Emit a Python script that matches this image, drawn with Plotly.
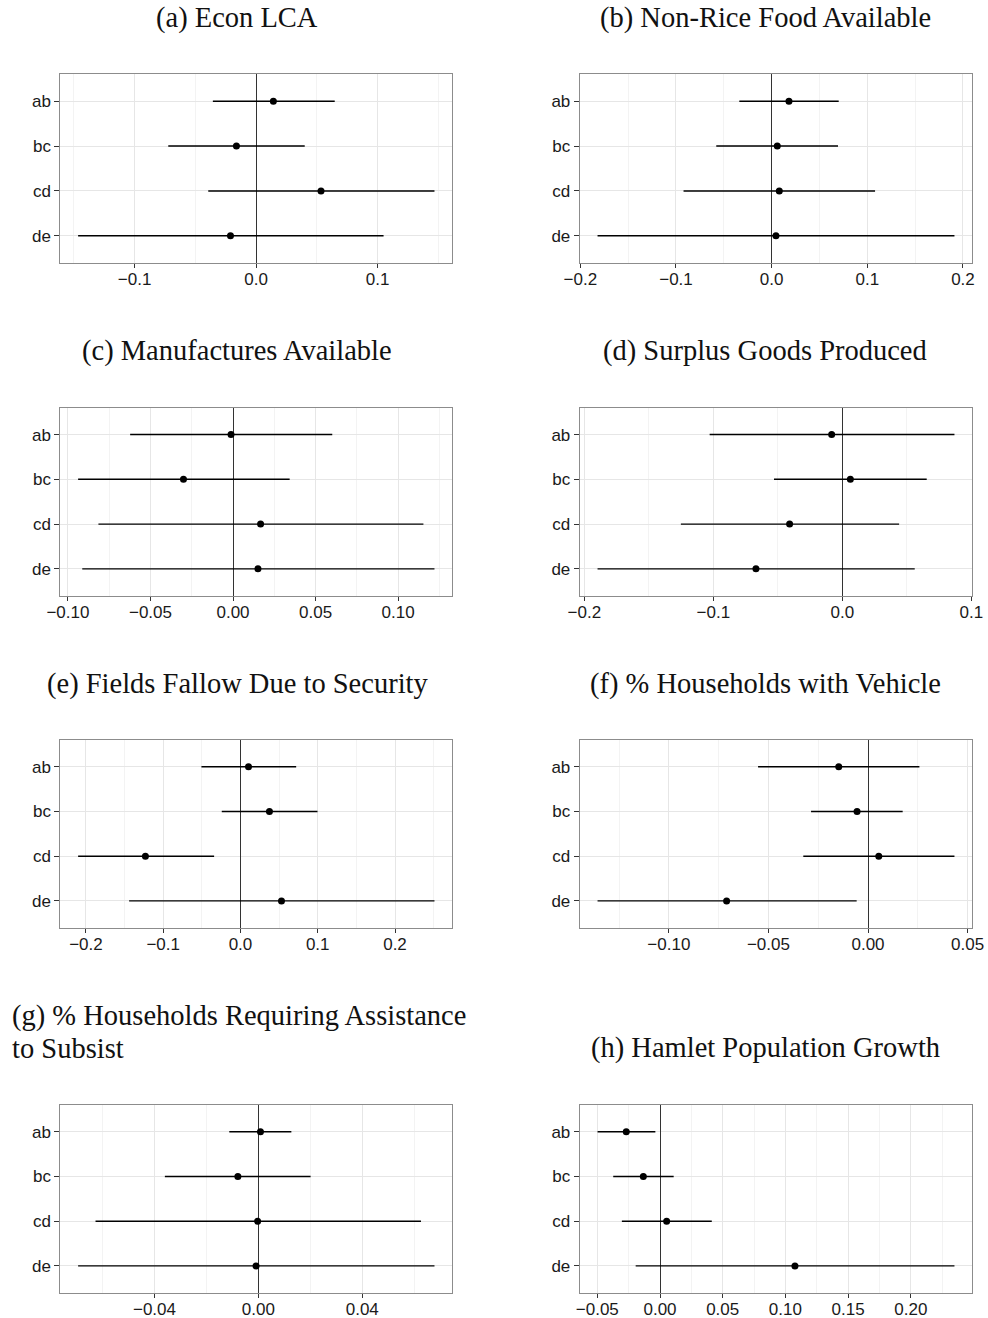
import plotly.graph_objects as go

categories = ["ab", "bc", "cd", "de"]

titles = [
    "(a) Econ LCA",
    "(b) Non-Rice Food Available",
    "(c) Manufactures Available",
    "(d) Surplus Goods Produced",
    "(e) Fields Fallow Due to Security",
    "(f) % Households with Vehicle",
    "(g) % Households Requiring Assistance",
    "(h) Hamlet Population Growth",
]
title_g_line2 = "to Subsist"

a_est = [0.0142, -0.0162, 0.0534, -0.0211]
a_lo = [-0.0356, -0.0723, -0.0394, -0.1465]
a_hi = [0.0647, 0.0400, 0.1468, 0.1049]

b_est = [0.0181, 0.0059, 0.0080, 0.0045]
b_lo = [-0.0338, -0.0579, -0.0921, -0.1820]
b_hi = [0.0701, 0.0694, 0.1081, 0.1911]

c_est = [-0.0012, -0.0300, 0.0167, 0.0151]
c_lo = [-0.0623, -0.0938, -0.0815, -0.0913]
c_hi = [0.0601, 0.0343, 0.1153, 0.1220]

d_est = [-0.0083, 0.0062, -0.0409, -0.0670]
d_lo = [-0.1029, -0.0530, -0.1252, -0.1898]
d_hi = [0.0869, 0.0654, 0.0440, 0.0561]

e_est = [0.0104, 0.0375, -0.1230, 0.0531]
e_lo = [-0.0505, -0.0242, -0.2101, -0.1441]
e_hi = [0.0721, 0.0997, -0.0341, 0.2511]

f_est = [-0.0147, -0.0055, 0.0054, -0.0710]
f_lo = [-0.0552, -0.0286, -0.0325, -0.1358]
f_hi = [0.0258, 0.0174, 0.0434, -0.0057]

g_est = [0.0008, -0.0079, -0.0003, -0.0009]
g_lo = [-0.0112, -0.0360, -0.0627, -0.0694]
g_hi = [0.0127, 0.0201, 0.0626, 0.0678]

h_est = [-0.0269, -0.0133, 0.0053, 0.1076]
h_lo = [-0.0498, -0.0373, -0.0304, -0.0194]
h_hi = [-0.0037, 0.0109, 0.0413, 0.2348]

x_dticks = [0.1, 0.1, 0.05, 0.1, 0.1, 0.05, 0.04, 0.05]
x_formats = [".1f", ".1f", ".2f", ".1f", ".1f", ".2f", ".2f", ".2f"]

panels = [
    (a_est, a_lo, a_hi), (b_est, b_lo, b_hi),
    (c_est, c_lo, c_hi), (d_est, d_lo, d_hi),
    (e_est, e_lo, e_hi), (f_est, f_lo, f_hi),
    (g_est, g_lo, g_hi), (h_est, h_lo, h_hi),
]

W, H = 988, 1318
col_x = [(60.3, 452.3), (579.7, 972.3)]
row_y = [(74.3, 262.7), (407.7, 595.7), (740.0, 927.7), (1105.0, 1292.7)]
title_x = [237, 765]
title_y = [18, 351, 684, 1048]


def px(v):
    return v / W


def py(v):
    return 1 - v / H


tick_font = dict(family="Liberation Sans, Arial, sans-serif", size=17, color="#1a1a1a")
title_font = dict(family="Liberation Serif, Times New Roman, serif", size=28.5, color="#111")

fig = go.Figure()
layout = dict(
    width=W, height=H, margin=dict(l=0, r=0, t=0, b=0, pad=0, autoexpand=False),
    paper_bgcolor="white", plot_bgcolor="white", showlegend=False,
)
annotations = []

for i, (est, lo, hi) in enumerate(panels):
    r, c = divmod(i, 2)
    n = "" if i == 0 else str(i + 1)
    xa, ya = "x" + n, "y" + n
    fig.add_trace(go.Scatter(
        x=est, y=categories, mode="markers",
        marker=dict(color="black", size=7),
        error_x=dict(type="data", symmetric=False,
                     array=[h - e for h, e in zip(hi, est)],
                     arrayminus=[e - l for e, l in zip(est, lo)],
                     width=0, thickness=1.4, color="black"),
        xaxis=xa, yaxis=ya, hoverinfo="skip",
    ))
    lmin, lmax = min(lo), max(hi)
    pad = 0.05 * (lmax - lmin)
    x0, x1 = col_x[c]
    y0, y1 = row_y[r]
    layout["xaxis" + n] = dict(
        domain=[px(x0), px(x1)], anchor=ya, automargin=False,
        range=[lmin - pad, lmax + pad],
        tick0=0, dtick=x_dticks[i], tickformat=x_formats[i],
        showgrid=True, gridcolor="#e6e6e6", gridwidth=1,
        minor=dict(showgrid=True, gridcolor="#f3f3f3", gridwidth=0.8,
                   dtick=x_dticks[i] / 2, tick0=0),
        zeroline=True, zerolinecolor="#333333", zerolinewidth=1.2,
        showline=True, linecolor="#8c8c8c", linewidth=1, mirror=True,
        ticks="outside", ticklen=4, tickcolor="#333333", tickwidth=1,
        ticklabelstandoff=-3, ticklabeloverflow="allow",
        tickfont=tick_font, fixedrange=True,
    )
    layout["yaxis" + n] = dict(
        domain=[py(y1), py(y0)], anchor=xa, automargin=False,
        type="category", categoryorder="array", categoryarray=categories,
        range=[3.6, -0.6],
        showgrid=True, gridcolor="#e6e6e6", gridwidth=1,
        zeroline=False,
        showline=True, linecolor="#8c8c8c", linewidth=1, mirror=True,
        ticks="outside", ticklen=5, tickcolor="#333333", tickwidth=1,
        tickfont=tick_font, fixedrange=True,
    )
    if i == 6:
        annotations.append(dict(
            text=titles[i], xref="paper", yref="paper",
            x=px(10), y=py(1016), xanchor="left", yanchor="middle",
            align="left", showarrow=False, font=title_font,
        ))
        annotations.append(dict(
            text=title_g_line2, xref="paper", yref="paper",
            x=px(10), y=py(1048), xanchor="left", yanchor="middle",
            align="left", showarrow=False, font=title_font,
        ))
    else:
        annotations.append(dict(
            text=titles[i], xref="paper", yref="paper",
            x=px(title_x[c]), y=py(title_y[r]), xanchor="center", yanchor="middle",
            showarrow=False, font=title_font,
        ))

layout["annotations"] = annotations
fig.update_layout(**layout)
fig.write_html(
    "out.html",
    config={"displayModeBar": False},
    post_script="document.body.style.margin='0px';document.body.style.overflow='hidden';",
)
